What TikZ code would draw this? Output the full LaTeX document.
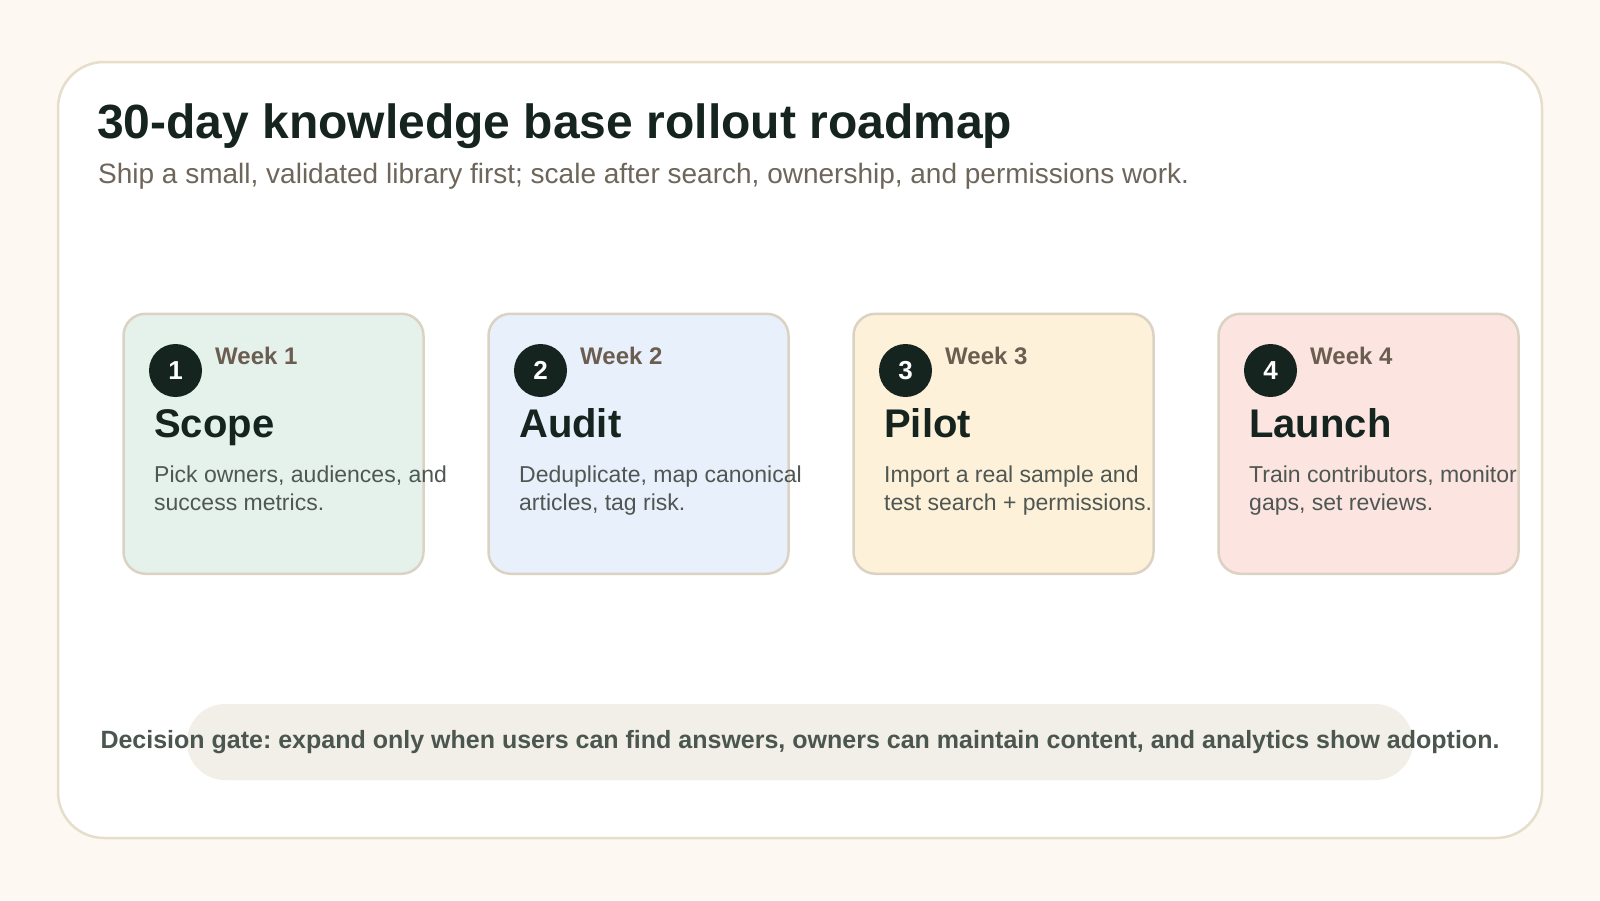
\documentclass[tikz,border=0pt]{standalone}
\usepackage{fontspec}
\setmainfont{Liberation Sans}
\usepackage{xcolor}
\frenchspacing
\definecolor{bgcream}{HTML}{FDF8F1}
\definecolor{panelline}{HTML}{E7DDCB}
\definecolor{cardline}{HTML}{DCD2C3}
\definecolor{titleink}{HTML}{15241F}
\definecolor{subink}{HTML}{6E655B}
\definecolor{weekink}{HTML}{6B5D50}
\definecolor{descink}{HTML}{4F5752}
\definecolor{gateink}{HTML}{4A564E}
\definecolor{gatefill}{HTML}{F1EFE8}
\definecolor{scopefill}{HTML}{E5F2EC}
\definecolor{auditfill}{HTML}{E8F0FC}
\definecolor{pilotfill}{HTML}{FEF1D9}
\definecolor{launchfill}{HTML}{FCE5E0}
\tikzset{
  panel/.style={rectangle,draw=panelline,fill=white,line width=2.5pt,rounded corners=46pt,minimum width=1484pt,minimum height=776pt,inner sep=0pt},
  card/.style={rectangle,draw=cardline,line width=2.5pt,rounded corners=22pt,minimum width=300pt,minimum height=260pt,inner sep=0pt},
  badge/.style={circle,fill=titleink,text=white,minimum size=53pt,inner sep=0pt,font=\bfseries\fontsize{26pt}{30pt}\selectfont},
  weeklab/.style={anchor=base west,inner sep=0pt,text=weekink,font=\bfseries\fontsize{24pt}{28pt}\selectfont},
  phase/.style={anchor=base west,inner sep=0pt,text=titleink,font=\bfseries\fontsize{40pt}{46pt}\selectfont},
  desc/.style={anchor=base west,inner sep=0pt,text=descink,align=left,font=\fontsize{23pt}{28pt}\selectfont},
  gate/.style={rectangle,fill=gatefill,rounded corners=38pt,minimum width=1226pt,minimum height=76pt,inner sep=0pt},
  lab/.style={anchor=base,inner sep=0pt}
}
\begin{document}
\begin{tikzpicture}[x=1pt,y=-1pt]
  \useasboundingbox[fill=bgcream] (0,0) rectangle (1600,900);
  \node[panel] (frame) at (800,450) {};

  % heading
  \node[anchor=base west,inner sep=0pt,text=titleink,font=\bfseries\fontsize{48pt}{54pt}\selectfont] (title) at (97,138) {30-day knowledge base rollout roadmap};
  \node[anchor=base west,inner sep=0pt,text=subink,font=\fontsize{28pt}{32pt}\selectfont] (sub) at (98,183) {Ship a small, validated library first; scale after search, ownership, and permissions work.};

  % week 1
  \node[card,fill=scopefill] (c1) at (273.5,443.75) {};
  \node[badge] (b1) at (175.5,370.5) {1};
  \node[weeklab] (w1) at (215,364) {Week 1};
  \node[phase] (p1) at (154,437) {Scope};
  \node[desc] (d1) at (154,510) {Pick owners, audiences, and\\success metrics.};

  % week 2
  \node[card,fill=auditfill] (c2) at (638.5,443.75) {};
  \node[badge] (b2) at (540.5,370.5) {2};
  \node[weeklab] (w2) at (580,364) {Week 2};
  \node[phase] (p2) at (519,437) {Audit};
  \node[desc] (d2) at (519,510) {Deduplicate, map canonical\\articles, tag risk.};

  % week 3
  \node[card,fill=pilotfill] (c3) at (1003.5,443.75) {};
  \node[badge] (b3) at (905.5,370.5) {3};
  \node[weeklab] (w3) at (945,364) {Week 3};
  \node[phase] (p3) at (884,437) {Pilot};
  \node[desc] (d3) at (884,510) {Import a real sample and\\test search + permissions.};

  % week 4
  \node[card,fill=launchfill] (c4) at (1368.5,443.75) {};
  \node[badge] (b4) at (1270.5,370.5) {4};
  \node[weeklab] (w4) at (1310,364) {Week 4};
  \node[phase] (p4) at (1249,437) {Launch};
  \node[desc] (d4) at (1249,510) {Train contributors, monitor\\gaps, set reviews.};

  % decision gate
  \node[gate] (g) at (800,742) {};
  \node[lab,text=gateink,font=\bfseries\fontsize{25pt}{30pt}\selectfont] (gt) at (800,748) {Decision gate: expand only when users can find answers, owners can maintain content, and analytics show adoption.};
\end{tikzpicture}
\end{document}
